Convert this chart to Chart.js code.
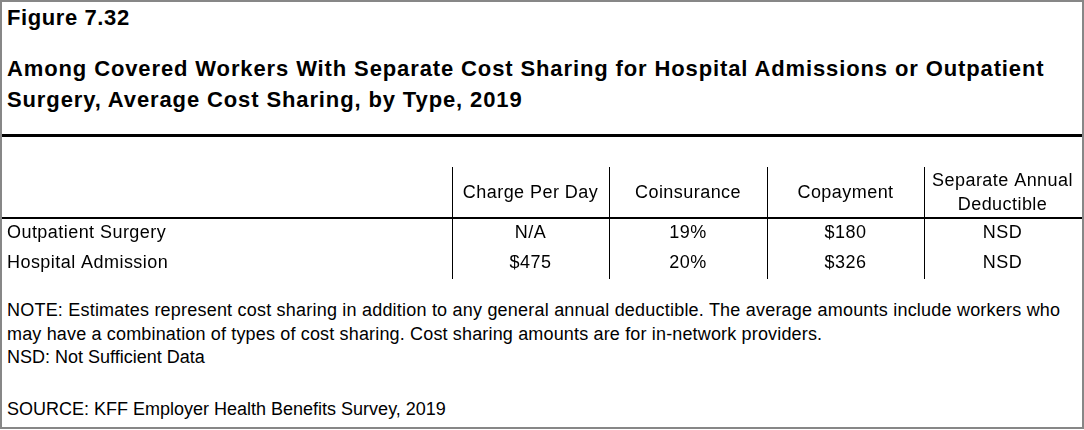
<!DOCTYPE html>
<html>
<head>
<meta charset="utf-8">
<script src="https://cdn.jsdelivr.net/npm/chart.js@4"></script>
<style>
  html, body { margin: 0; padding: 0; background: #fff; }
  body { width: 1084px; height: 430px; position: relative; overflow: hidden;
         font-family: "Liberation Sans", Arial, sans-serif; color: #000; }
  #frame { position: absolute; left: 0; top: 0; width: 1084px; height: 429px;
           box-sizing: border-box; border: 2px solid #878787; }
  .t { position: absolute; left: 7px; white-space: nowrap; }
  #fig { top: 7.4px; font-size: 22px; line-height: 22px; font-weight: bold; letter-spacing: 0.6px; }
  #title { top: 52.8px; font-size: 22px; line-height: 31px; font-weight: bold; letter-spacing: 0.88px; }
  #rule { position: absolute; left: 2px; top: 134px; width: 1080px; height: 3px; background: #000; }
  #notes { top: 299.4px; font-size: 18px; line-height: 23.5px; }
  #notes .l1 { letter-spacing: 0.21px; }
  #notes .l2 { letter-spacing: 0.16px; }
  #source { top: 398px; font-size: 18px; line-height: 23.5px; }
  #tbl { position: absolute; left: 0; top: 140px; }
</style>
</head>
<body>
<div id="frame"></div>
<div class="t" id="fig">Figure 7.32</div>
<div class="t" id="title">Among Covered Workers With Separate Cost Sharing for Hospital Admissions or Outpatient<br>Surgery, Average Cost Sharing, by Type, 2019</div>
<div id="rule"></div>
<canvas id="tbl" width="1084" height="150"></canvas>
<div class="t" id="notes"><span class="l1">NOTE: Estimates represent cost sharing in addition to any general annual deductible. The average amounts include workers who</span><br><span class="l2">may have a combination of types of cost sharing. Cost sharing amounts are for in-network providers.</span><br>NSD: Not Sufficient Data</div>
<div class="t" id="source">SOURCE: KFF Employer Health Benefits Survey, 2019</div>
<script>
// ---- data ----
const rowLabels = ['Outpatient Surgery', 'Hospital Admission'];
const columnHeaders = ['Charge Per Day', 'Coinsurance', 'Copayment', 'Separate Annual Deductible'];
const chargePerDay = ['N/A', '$475'];
const coinsurance = ['19%', '20%'];
const copayment = ['$180', '$326'];
const separateAnnualDeductible = ['NSD', 'NSD'];

const columns = [chargePerDay, coinsurance, copayment, separateAnnualDeductible];

// ---- layout (table coordinate system) ----
const layout = {
  colEdges: [0, 452, 609, 767, 924, 1081],
  lineLeft: 2, lineRight: 1082,
  gridTop: 27, headerBottom: 77, gridBottom: 139,
  headerCenter: 52, headerLineGap: 24,
  rowBaselines: [98.4, 128.4],
  labelX: 7,
  font: '18px "Liberation Sans", Arial, sans-serif',
  letterSpacing: '0.45px'
};

function wrap(ctx, text, maxW) {
  const words = text.split(' ');
  const lines = [];
  let cur = '';
  for (const w of words) {
    const test = cur ? cur + ' ' + w : w;
    if (cur && ctx.measureText(test).width > maxW) { lines.push(cur); cur = w; }
    else cur = test;
  }
  if (cur) lines.push(cur);
  return lines;
}

const tablePlugin = {
  id: 'tableDraw',
  afterDraw(chart) {
    const ctx = chart.ctx;
    const xs = chart.scales.x, ys = chart.scales.y;
    const L = layout;
    ctx.save();
    ctx.fillStyle = '#000';
    // header bottom rule
    const hb = ys.getPixelForValue(L.headerBottom);
    ctx.fillRect(xs.getPixelForValue(L.lineLeft), hb,
                 xs.getPixelForValue(L.lineRight) - xs.getPixelForValue(L.lineLeft), 2);
    // vertical separators
    const gt = ys.getPixelForValue(L.gridTop), gb = ys.getPixelForValue(L.gridBottom);
    for (let i = 1; i < L.colEdges.length - 1; i++) {
      ctx.fillRect(Math.round(xs.getPixelForValue(L.colEdges[i])), gt, 1, gb - gt);
    }
    ctx.font = L.font;
    if ('letterSpacing' in ctx) ctx.letterSpacing = L.letterSpacing;
    ctx.textBaseline = 'alphabetic';
    // headers
    ctx.textAlign = 'center';
    columnHeaders.forEach((h, i) => {
      const x0 = xs.getPixelForValue(L.colEdges[i + 1]);
      const x1 = xs.getPixelForValue(L.colEdges[i + 2]);
      const cx = (x0 + x1) / 2;
      const lines = wrap(ctx, h, (x1 - x0) - 10);
      const n = lines.length;
      lines.forEach((ln, k) => {
        const c = L.headerCenter + (k - (n - 1) / 2) * L.headerLineGap;
        ctx.fillText(ln, cx, ys.getPixelForValue(c + 6.4));
      });
    });
    // rows
    rowLabels.forEach((lab, r) => {
      const by = ys.getPixelForValue(L.rowBaselines[r]);
      ctx.textAlign = 'left';
      ctx.fillText(lab, xs.getPixelForValue(L.labelX), by);
      ctx.textAlign = 'center';
      columns.forEach((col, c) => {
        const cx = (xs.getPixelForValue(L.colEdges[c + 1]) + xs.getPixelForValue(L.colEdges[c + 2])) / 2;
        ctx.fillText(col[r], cx, by);
      });
    });
    ctx.restore();
  }
};

new Chart(document.getElementById('tbl'), {
  type: 'scatter',
  data: { datasets: [] },
  options: {
    responsive: false,
    animation: false,
    devicePixelRatio: window.devicePixelRatio || 1,
    layout: { padding: 0 },
    plugins: { legend: { display: false }, tooltip: { enabled: false }, title: { display: false } },
    scales: {
      x: { type: 'linear', min: 0, max: 1084, display: false },
      y: { type: 'linear', min: 0, max: 150, reverse: true, display: false }
    }
  },
  plugins: [tablePlugin]
});
</script>
</body>
</html>
